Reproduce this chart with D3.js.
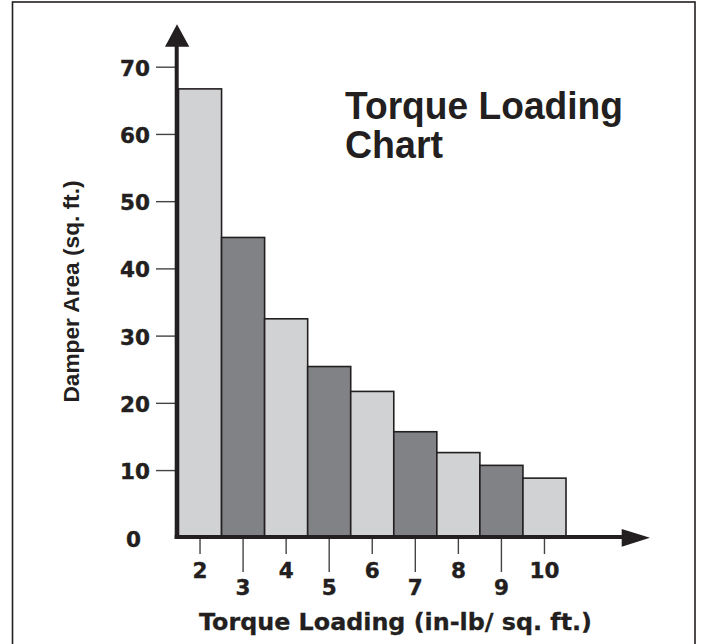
<!DOCTYPE html>
<html>
<head>
<meta charset="utf-8">
<script src="https://cdn.jsdelivr.net/npm/d3@7/dist/d3.min.js"></script>
<style>
html,body{margin:0;padding:0;background:#fff;}
svg{display:block;}
.lib{font-family:"Liberation Sans", Arial, Helvetica, sans-serif;font-weight:bold;}
.dv{font-family:"DejaVu Sans", sans-serif;font-weight:bold;}
</style>
</head>
<body>
<svg id="chart" width="701" height="644"></svg>
<script>
const categories = ["2","3","4","5","6","7","8","9","10"];
const values = [66.7, 44.6, 32.5, 25.4, 21.7, 15.7, 12.6, 10.7, 8.8];
const yTicks = [10, 20, 30, 40, 50, 60, 70];
const titleLines = ["Torque Loading", "Chart"];
const titleWidths = [278, 98];
const xTitle = "Torque Loading (in-lb/ sq. ft.)";
const yTitle = "Damper Area (sq. ft.)";

const ink = "#231f20";
const light = "#d1d2d4";
const dark = "#808285";
const svg = d3.select("#chart");

// frame
svg.append("rect").attr("x", 12.5).attr("y", 2).attr("width", 682.5).attr("height", 660)
  .attr("fill", "none").attr("stroke", ink).attr("stroke-width", 1.6);

const x = d3.scaleBand().domain(categories).range([178.5, 566]).padding(0);
const y = d3.scaleLinear().domain([0, 70]).range([537.3, 66.7]);

// bars
svg.append("g").selectAll("rect").data(values).join("rect")
  .attr("x", (d, i) => x(categories[i]))
  .attr("y", d => y(d))
  .attr("width", x.bandwidth())
  .attr("height", d => y(0) - y(d))
  .attr("fill", (d, i) => i % 2 === 0 ? light : dark)
  .attr("stroke", ink).attr("stroke-width", 1.6);

// y ticks via axis
const yAxis = d3.axisLeft(y).tickValues(yTicks).tickSize(20).tickPadding(6).tickFormat(d3.format("d"));
const gy = svg.append("g").attr("transform", "translate(176,0)").call(yAxis);
gy.select(".domain").remove();
gy.selectAll(".tick line").attr("stroke", "#444").attr("stroke-width", 1.4);
gy.selectAll(".tick text").attr("class", "dv").attr("font-size", 21.5)
  .attr("fill", ink).attr("stroke", ink).attr("stroke-width", 0.4)
  .attr("dy", "0.4em").attr("x", -26);

// zero label
svg.append("text").attr("class", "dv").attr("x", 141).attr("y", y(0) + 10).attr("text-anchor", "end")
  .attr("font-size", 21.5).attr("fill", ink).attr("stroke", ink).attr("stroke-width", 0.4).text("0");

// x ticks (staggered)
const gx = svg.append("g");
categories.forEach((c, i) => {
  const cx = x(c) + x.bandwidth() / 2;
  const longT = i % 2 === 1;
  gx.append("line").attr("x1", cx).attr("x2", cx).attr("y1", 539).attr("y2", longT ? 572 : 554)
    .attr("stroke", "#444").attr("stroke-width", 1.4);
  gx.append("text").attr("class", "dv").attr("x", cx).attr("y", longT ? 595 : 577.5).attr("text-anchor", "middle")
    .attr("font-size", 21.5).attr("fill", ink).attr("stroke", ink).attr("stroke-width", 0.4).text(c);
});

// axes lines
svg.append("line").attr("x1", 176.7).attr("x2", 176.7).attr("y1", 539).attr("y2", 46)
  .attr("stroke", ink).attr("stroke-width", 4);
svg.append("line").attr("x1", 174.7).attr("x2", 623).attr("y1", 537).attr("y2", 537)
  .attr("stroke", ink).attr("stroke-width", 4);
// arrowheads
svg.append("path").attr("d", "M177,24.3 L189.3,46.7 L165,46.7 Z").attr("fill", ink);
svg.append("path").attr("d", "M650,537.8 L621.7,546.7 L621.7,529 Z").attr("fill", ink);

// titles
titleLines.forEach((t, i) => {
  svg.append("text").attr("class", "lib").attr("x", 345).attr("y", 119.3 + i * 39)
    .attr("font-size", 38).attr("textLength", titleWidths[i]).attr("lengthAdjust", "spacingAndGlyphs")
    .attr("fill", ink).text(t);
});

svg.append("text").attr("class", "dv").attr("x", 395.5).attr("y", 630).attr("text-anchor", "middle")
  .attr("font-size", 22.5).attr("textLength", 393).attr("lengthAdjust", "spacingAndGlyphs")
  .attr("fill", ink).attr("stroke", ink).attr("stroke-width", 0.3).text(xTitle);

svg.append("text").attr("class", "lib").attr("transform", "translate(79,291.5) rotate(-90)").attr("text-anchor", "middle")
  .attr("font-size", 22).attr("textLength", 222).attr("lengthAdjust", "spacingAndGlyphs")
  .attr("fill", ink).text(yTitle);
</script>
</body>
</html>
